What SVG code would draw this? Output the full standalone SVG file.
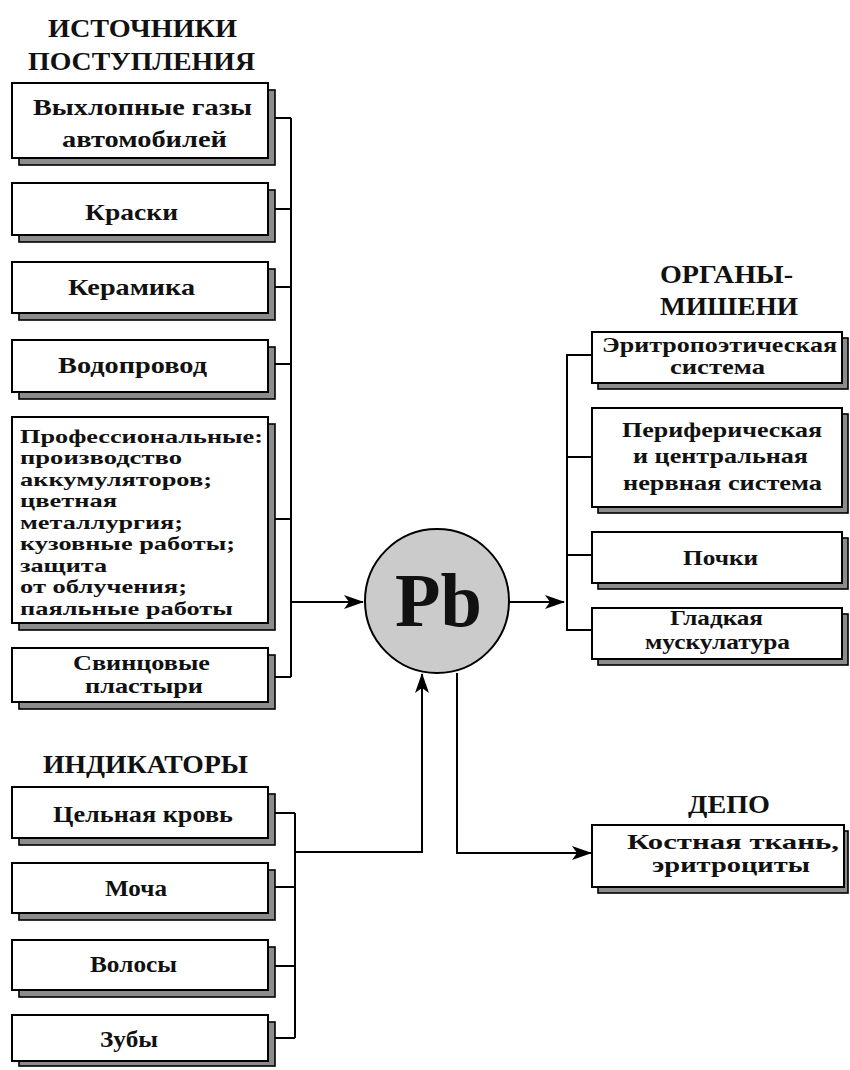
<svg xmlns="http://www.w3.org/2000/svg" width="850" height="1070" viewBox="0 0 850 1070">
  <style>
    .shadow { fill: #8c8c8c; stroke: #000; stroke-width: 1.6; }
    .box { fill: #fff; stroke: #000; stroke-width: 2; }
    text { font-family: "Liberation Serif", "Times New Roman", serif; font-weight: bold; fill: #111; }
    .t { font-size: 23px; }
    .m { font-size: 21px; }
    .s { font-size: 19px; }
    .r { font-size: 21px; }
    .h { font-size: 25px; }
    .wire { fill: none; stroke: #000; stroke-width: 2; }
  </style>
  <defs>
    <marker id="arrow" viewBox="0 0 20 14" refX="19" refY="7" markerWidth="20" markerHeight="14" markerUnits="userSpaceOnUse" orient="auto">
      <path d="M0,0 L20,7 L0,14 L5,7 Z" fill="#000"/>
    </marker>
  </defs>

  <rect width="850" height="1070" fill="#fff"/>

  <!-- section headings -->
  <g id="headings">
    <text class="h" x="48" y="37" textLength="189" lengthAdjust="spacingAndGlyphs">ИСТОЧНИКИ</text>
    <text class="h" x="28" y="70" textLength="227" lengthAdjust="spacingAndGlyphs">ПОСТУПЛЕНИЯ</text>
    <text class="h" x="660" y="283" textLength="133" lengthAdjust="spacingAndGlyphs">ОРГАНЫ-</text>
    <text class="h" x="660" y="315" textLength="138" lengthAdjust="spacingAndGlyphs">МИШЕНИ</text>
    <text class="h" x="43" y="773" textLength="205" lengthAdjust="spacingAndGlyphs">ИНДИКАТОРЫ</text>
    <text class="h" x="688" y="813" textLength="82" lengthAdjust="spacingAndGlyphs">ДЕПО</text>
  </g>

  <!-- connectors -->
  <g id="connectors">
    <!-- sources bus -->
    <path class="wire" d="M268,118 H291 M268,209 H291 M268,287 H291 M268,364 H291 M268,519 H291 M268,677 H291 M291,118 V677"/>
    <path class="wire" d="M291,602 H363" marker-end="url(#arrow)"/>
    <!-- target organs bus -->
    <path class="wire" d="M509,602 H564" marker-end="url(#arrow)"/>
    <path class="wire" d="M592,355 H567 V630 H592 M567,457 H592 M567,555 H592"/>
    <!-- indicators bus -->
    <path class="wire" d="M268,813 H295 M268,887 H295 M268,966 H295 M268,1038 H295 M295,813 V1038"/>
    <path class="wire" d="M295,852 H422 V674" marker-end="url(#arrow)"/>
    <!-- depot -->
    <path class="wire" d="M457,673 V853 H591" marker-end="url(#arrow)"/>
  </g>

  <!-- central node -->
  <g id="pb">
    <circle cx="437" cy="601" r="72" fill="#cbcbcb" stroke="#000" stroke-width="2"/>
    <text x="395" y="626" font-size="76" textLength="87" lengthAdjust="spacingAndGlyphs" fill="#000">Pb</text>
  </g>

  <!-- sources -->
  <g id="src-exhaust">
    <rect class="shadow" x="19" y="90" width="256" height="75"/>
    <rect class="box" x="12" y="83" width="256" height="75"/>
    <text class="t" x="33" y="115" textLength="219" lengthAdjust="spacingAndGlyphs">Выхлопные газы</text>
    <text class="t" x="62" y="147" textLength="165" lengthAdjust="spacingAndGlyphs">автомобилей</text>
  </g>
  <g id="src-paints">
    <rect class="shadow" x="19" y="190" width="256" height="52"/>
    <rect class="box" x="12" y="183" width="256" height="52"/>
    <text class="t" x="85" y="220" textLength="93" lengthAdjust="spacingAndGlyphs">Краски</text>
  </g>
  <g id="src-ceramics">
    <rect class="shadow" x="19" y="269" width="256" height="51"/>
    <rect class="box" x="12" y="262" width="256" height="51"/>
    <text class="t" x="68" y="295" textLength="127" lengthAdjust="spacingAndGlyphs">Керамика</text>
  </g>
  <g id="src-water">
    <rect class="shadow" x="19" y="347" width="256" height="52"/>
    <rect class="box" x="12" y="340" width="256" height="52"/>
    <text class="t" x="58" y="373" textLength="149" lengthAdjust="spacingAndGlyphs">Водопровод</text>
  </g>
  <g id="src-occupational">
    <rect class="shadow" x="19" y="424" width="256" height="206"/>
    <rect class="box" x="12" y="417" width="256" height="206"/>
    <text class="s" x="20" y="443" textLength="243" lengthAdjust="spacingAndGlyphs">Профессиональные:</text>
    <text class="s" x="20" y="464" textLength="162" lengthAdjust="spacingAndGlyphs">производство</text>
    <text class="s" x="20" y="486" textLength="192" lengthAdjust="spacingAndGlyphs">аккумуляторов;</text>
    <text class="s" x="20" y="507" textLength="97" lengthAdjust="spacingAndGlyphs">цветная</text>
    <text class="s" x="20" y="529" textLength="163" lengthAdjust="spacingAndGlyphs">металлургия;</text>
    <text class="s" x="20" y="550" textLength="215" lengthAdjust="spacingAndGlyphs">кузовные работы;</text>
    <text class="s" x="20" y="572" textLength="87" lengthAdjust="spacingAndGlyphs">защита</text>
    <text class="s" x="20" y="593" textLength="167" lengthAdjust="spacingAndGlyphs">от облучения;</text>
    <text class="s" x="20" y="615" textLength="213" lengthAdjust="spacingAndGlyphs">паяльные работы</text>
  </g>
  <g id="src-plasters">
    <rect class="shadow" x="19" y="655" width="256" height="54"/>
    <rect class="box" x="12" y="648" width="256" height="54"/>
    <text class="m" x="73" y="670" textLength="137" lengthAdjust="spacingAndGlyphs">Свинцовые</text>
    <text class="m" x="85" y="693" textLength="118" lengthAdjust="spacingAndGlyphs">пластыри</text>
  </g>

  <!-- target organs -->
  <g id="org-erythro">
    <rect class="shadow" x="598" y="338" width="250" height="51"/>
    <rect class="box" x="592" y="332" width="250" height="51"/>
    <text class="r" x="602" y="352" textLength="235" lengthAdjust="spacingAndGlyphs">Эритропоэтическая</text>
    <text class="r" x="670" y="374" textLength="95" lengthAdjust="spacingAndGlyphs">система</text>
  </g>
  <g id="org-nervous">
    <rect class="shadow" x="598" y="414" width="250" height="99"/>
    <rect class="box" x="592" y="408" width="250" height="99"/>
    <text class="r" x="622" y="437" textLength="200" lengthAdjust="spacingAndGlyphs">Периферическая</text>
    <text class="r" x="633" y="463" textLength="175" lengthAdjust="spacingAndGlyphs">и центральная</text>
    <text class="r" x="623" y="490" textLength="199" lengthAdjust="spacingAndGlyphs">нервная система</text>
  </g>
  <g id="org-kidneys">
    <rect class="shadow" x="598" y="538" width="250" height="51"/>
    <rect class="box" x="592" y="532" width="250" height="51"/>
    <text class="r" x="683" y="565" textLength="75" lengthAdjust="spacingAndGlyphs">Почки</text>
  </g>
  <g id="org-muscle">
    <rect class="shadow" x="598" y="614" width="250" height="51"/>
    <rect class="box" x="592" y="608" width="250" height="51"/>
    <text class="r" x="670" y="625" textLength="93" lengthAdjust="spacingAndGlyphs">Гладкая</text>
    <text class="r" x="645" y="649" textLength="145" lengthAdjust="spacingAndGlyphs">мускулатура</text>
  </g>

  <!-- depot -->
  <g id="depot-bone">
    <rect class="shadow" x="598" y="831" width="250" height="62"/>
    <rect class="box" x="592" y="825" width="252" height="62"/>
    <text class="m" x="627" y="849" textLength="212" lengthAdjust="spacingAndGlyphs">Костная ткань,</text>
    <text class="m" x="652" y="872" textLength="158" lengthAdjust="spacingAndGlyphs">эритроциты</text>
  </g>

  <!-- indicators -->
  <g id="ind-blood">
    <rect class="shadow" x="19" y="794" width="256" height="51"/>
    <rect class="box" x="12" y="787" width="256" height="51"/>
    <text class="t" x="53" y="822" textLength="180" lengthAdjust="spacingAndGlyphs">Цельная кровь</text>
  </g>
  <g id="ind-urine">
    <rect class="shadow" x="19" y="870" width="256" height="50"/>
    <rect class="box" x="12" y="863" width="256" height="50"/>
    <text class="t" x="105" y="896" textLength="62" lengthAdjust="spacingAndGlyphs">Моча</text>
  </g>
  <g id="ind-hair">
    <rect class="shadow" x="19" y="947" width="256" height="50"/>
    <rect class="box" x="12" y="940" width="256" height="50"/>
    <text class="t" x="90" y="972" textLength="87" lengthAdjust="spacingAndGlyphs">Волосы</text>
  </g>
  <g id="ind-teeth">
    <rect class="shadow" x="19" y="1022" width="256" height="44"/>
    <rect class="box" x="12" y="1015" width="256" height="46"/>
    <text class="t" x="100" y="1047" textLength="58" lengthAdjust="spacingAndGlyphs">Зубы</text>
  </g>
</svg>
